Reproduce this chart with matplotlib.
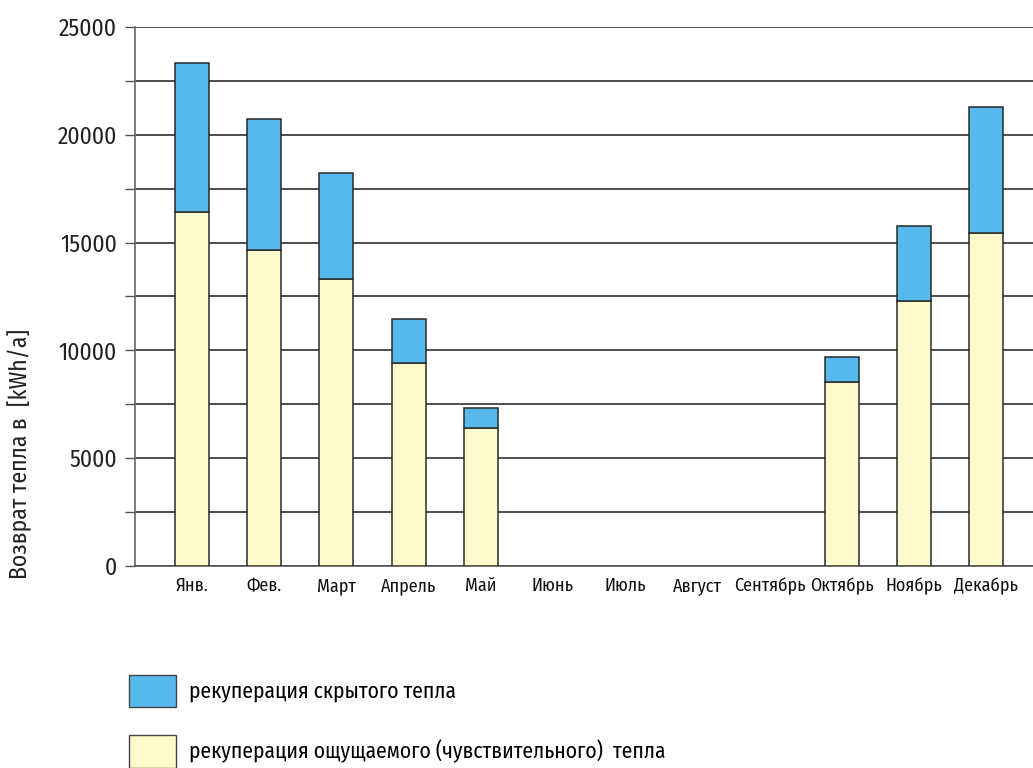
import matplotlib
matplotlib.use("Agg")
import matplotlib.pyplot as plt
from matplotlib.patches import Patch
import numpy as np

months = ["Янв.", "Фев.", "Март", "Апрель", "Май", "Июнь", "Июль", "Август",
          "Сентябрь", "Октябрь", "Ноябрь", "Декабрь"]
sensible = [16400, 14670, 13310, 9400, 6400, 0, 0, 0, 0, 8520, 12300, 15440]
total = [23330, 20730, 18210, 11440, 7340, 0, 0, 0, 0, 9710, 15770, 21290]

label_latent = "рекуперация скрытого тепла"
label_sensible = "рекуперация ощущаемого (чувствительного)  тепла"
ylabel = "Возврат тепла в  [kWh/a]"

FONT = ["Fira Sans Condensed", "Liberation Sans", "DejaVu Sans"]
plt.rcParams["font.family"] = FONT

blue = "#56B9EC"
yellow = "#FFFACB"
edge = "#2a2a2a"

W, H = 1033, 768
fig = plt.figure(figsize=(W / 100, H / 100), dpi=100)
ax = fig.add_axes([135 / W, (H - 566) / H, (W - 135) / W, (566 - 27) / H])

x = np.arange(len(months))
sens = np.array(sensible, dtype=float)
tot = np.array(total, dtype=float)
lat = tot - sens
has = tot > 0
bw = 0.47
ax.bar(x[has], sens[has], bw, color=yellow, edgecolor=edge, linewidth=1.1, zorder=3,
       label=label_sensible)
ax.bar(x[has], lat[has], bw, bottom=sens[has], color=blue, edgecolor=edge,
       linewidth=1.1, zorder=3, label=label_latent)

ax.set_xlim(-0.79, 11.65)
ax.set_ylim(0, 25000)
ax.set_yticks(np.arange(0, 25001, 5000))
ax.set_yticks(np.arange(0, 25001, 2500), minor=True)
ax.yaxis.grid(True, which="both", color="#303030", linewidth=1.2, zorder=0)
ax.set_axisbelow(True)

ax.set_xticks(x)
ax.set_xticklabels(months, fontsize=13)
ax.tick_params(axis="x", length=0, pad=8, colors="#111111")
ax.tick_params(axis="y", which="both", length=7, width=1.0, color="#555555",
               pad=6, labelsize=17, labelcolor="#222222")

for s in ["top", "right"]:
    ax.spines[s].set_visible(False)
ax.spines["left"].set_color("#666666")
ax.spines["left"].set_linewidth(1.2)
ax.spines["bottom"].set_color("#555555")
ax.spines["bottom"].set_linewidth(1.2)

fig.text(20 / W, 1 - 454 / H, ylabel, rotation=90, ha="center", va="center",
         fontsize=17, color="#222222")

handles = [Patch(facecolor=blue, edgecolor="#444444", linewidth=1.0),
           Patch(facecolor=yellow, edgecolor="#444444", linewidth=1.0)]
fig.legend(handles, [label_latent, label_sensible], loc="upper left",
           bbox_to_anchor=(120 / W, 1 - 666 / H), frameon=False, fontsize=15.5,
           handlelength=2.2, handleheight=1.95, handletextpad=0.6,
           labelspacing=1.3, borderaxespad=0, borderpad=0.4)

fig.savefig("out.png", dpi=100)
